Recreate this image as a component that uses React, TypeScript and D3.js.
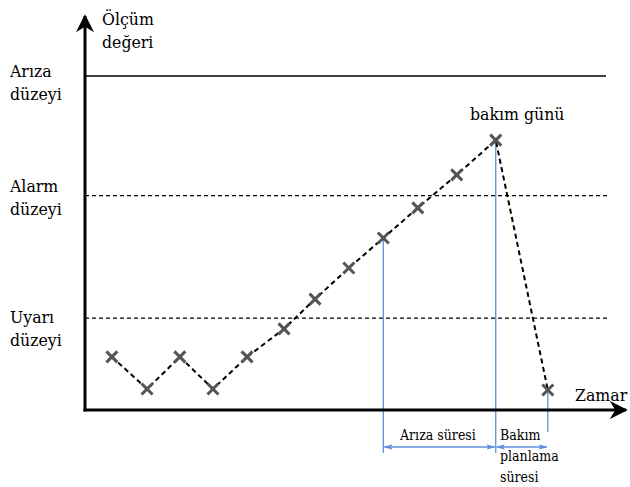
import React from "react";
import * as d3 from "d3";

const times = [0.78, 1.8, 2.75, 3.71, 4.7, 5.77, 6.67, 7.65, 8.65, 9.65, 10.78, 11.91, 13.42];
const values = [15.9, 6.3, 15.9, 6.3, 15.9, 24.3, 33.2, 42.5, 51.5, 60.5, 70.4, 80.8, 6.0];
const levelNames = ["Arıza düzeyi", "Alarm düzeyi", "Uyarı düzeyi"];
const levelValues = [100, 64.2, 27.5];
const failIndex = 8;
const maintIndex = 11;
const endIndex = 12;

const W = 630;
const H = 487;
const x0 = 85;
const y0 = 410;
const x = d3.scaleLinear().domain([0, 15.6]).range([x0, 623]);
const y = d3.scaleLinear().domain([0, 100]).range([y0, 76]);

const font = "'DejaVu Serif Condensed', 'DejaVu Serif', serif";
const blue = "#5f8fdc";

export default function App() {
  const line = d3
    .line<number>()
    .x((_, i) => x(times[i]))
    .y((v) => y(v));
  const levelLabelY = [77, 192, 323];
  const arrowY = 447;
  const xf = x(times[failIndex]);
  const xm = x(times[maintIndex]);
  const xe = x(times[endIndex]);
  const big = { fontFamily: font, fontSize: 17.5, fontStretch: "condensed" as const };
  const small = { fontFamily: font, fontSize: 14, fontStretch: "condensed" as const };
  return (
    <svg width={W} height={H} style={{ position: "absolute", left: 0, top: 0, background: "#fff" }}>
      <defs>
        <marker id="ah" viewBox="0 0 10 10" refX="9" refY="5" markerWidth="6" markerHeight="6" orient="auto">
          <path d="M0,0 L10,5 L0,10 L3,5 Z" fill="#000" />
        </marker>
        <marker id="bh" viewBox="0 0 10 10" refX="9" refY="5" markerWidth="7" markerHeight="7" orient="auto-start-reverse">
          <path d="M0,2 L10,5 L0,8 L2,5 Z" fill={blue} />
        </marker>
      </defs>
      {levelValues.map((v, i) => (
        <line
          key={i}
          x1={x0}
          x2={i === 0 ? 606 : 608}
          y1={y(v)}
          y2={y(v)}
          stroke="#000"
          strokeWidth={i === 0 ? 1.6 : 1.2}
          strokeDasharray={i === 0 ? undefined : "4,3"}
        />
      ))}
      <line x1={xf} x2={xf} y1={y(values[failIndex])} y2={453} stroke={blue} strokeWidth={1.3} />
      <line x1={xm} x2={xm} y1={y(values[maintIndex])} y2={453} stroke={blue} strokeWidth={1.3} />
      <line x1={xe} x2={xe} y1={y(values[endIndex])} y2={432} stroke={blue} strokeWidth={1.3} />
      <line x1={xf + 1} x2={xm - 1} y1={arrowY} y2={arrowY} stroke={blue} strokeWidth={1.3} markerStart="url(#bh)" markerEnd="url(#bh)" />
      <line x1={xm + 1} x2={xe - 1} y1={arrowY} y2={arrowY} stroke={blue} strokeWidth={1.3} markerStart="url(#bh)" markerEnd="url(#bh)" />
      <path d={line(values) || ""} fill="none" stroke="#000" strokeWidth={2} strokeDasharray="5,3.5" />
      {values.map((v, i) => {
        const cx = x(times[i]);
        const cy = y(v);
        const s = 5.5;
        return (
          <g key={i} stroke="#555" strokeWidth={3}>
            <line x1={cx - s} y1={cy - s} x2={cx + s} y2={cy + s} />
            <line x1={cx - s} y1={cy + s} x2={cx + s} y2={cy - s} />
          </g>
        );
      })}
      <line x1={x0} x2={x0} y1={y0 + 1.5} y2={16} stroke="#000" strokeWidth={3} markerEnd="url(#ah)" />
      <line x1={x0 - 1.5} x2={626} y1={y0} y2={y0} stroke="#000" strokeWidth={3} markerEnd="url(#ah)" />
      <g fill="#000">
        <text x={102} y={25} style={big}>Ölçüm</text>
        <text x={102} y={48} style={big}>değeri</text>
        {levelNames.map((n, i) => {
          const [a, b] = n.split(" ");
          return (
            <g key={i}>
              <text x={10} y={levelLabelY[i]} style={big}>{a}</text>
              <text x={10} y={levelLabelY[i] + 23} style={big}>{b}</text>
            </g>
          );
        })}
        <text x={470} y={120} style={big}>bakım günü</text>
        <text x={575} y={401} style={big}>Zamar</text>
        <text x={400} y={440} style={small}>Arıza süresi</text>
        <text x={500} y={440} style={small}>Bakım</text>
        <text x={500} y={461} style={small}>planlama</text>
        <text x={500} y={482} style={small}>süresi</text>
      </g>
    </svg>
  );
}
